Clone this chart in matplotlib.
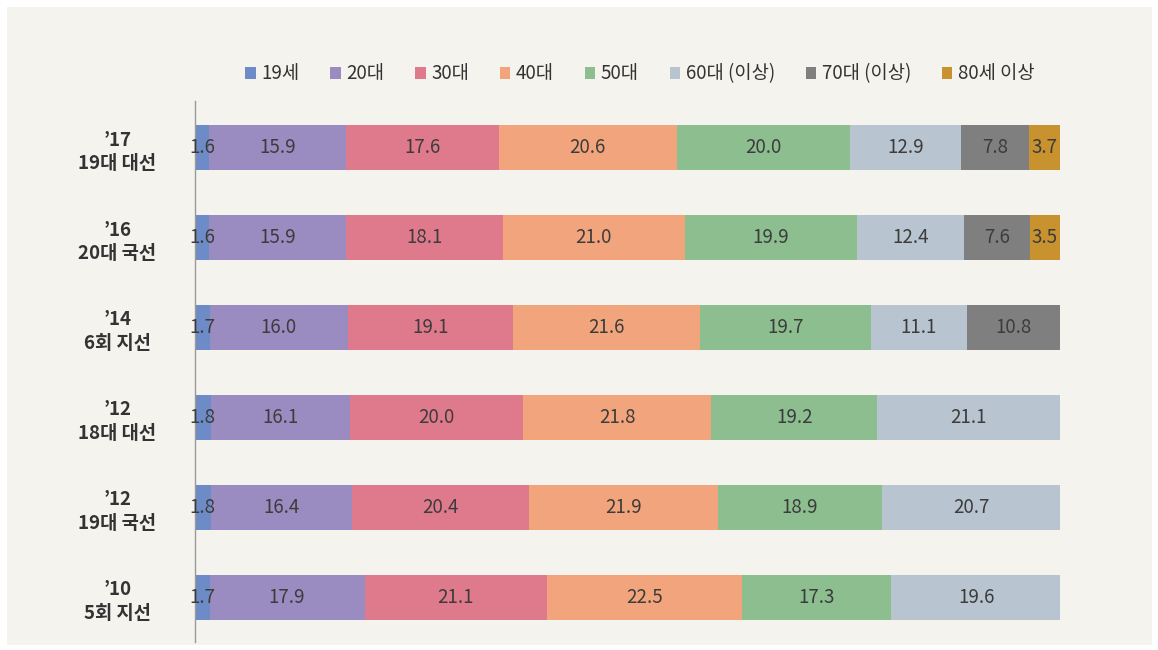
import matplotlib.pyplot as plt
from matplotlib.patches import Rectangle, Patch
import numpy as np

plt.rcParams['font.family'] = ['Noto Sans CJK KR', 'DejaVu Sans']

categories = ["’17\n19대 대선", "’16\n20대 국선", "’14\n6회 지선",
              "’12\n18대 대선", "’12\n19대 국선", "’10\n5회 지선"]
groups = ["19세", "20대", "30대", "40대", "50대", "60대 (이상)", "70대 (이상)", "80세 이상"]
colors = ["#6d8bc6", "#9a8cc0", "#df7a8c", "#f2a57d", "#8dbe8f", "#b8c4cf", "#7f7f80", "#c8922f"]

# values per group, one per category (0 = no segment)
v19 = [1.6, 1.6, 1.7, 1.8, 1.8, 1.7]
v20 = [15.9, 15.9, 16.0, 16.1, 16.4, 17.9]
v30 = [17.6, 18.1, 19.1, 20.0, 20.4, 21.1]
v40 = [20.6, 21.0, 21.6, 21.8, 21.9, 22.5]
v50 = [20.0, 19.9, 19.7, 19.2, 18.9, 17.3]
v60 = [12.9, 12.4, 11.1, 21.1, 20.7, 19.6]
v70 = [7.8, 7.6, 10.8, 0, 0, 0]
v80 = [3.7, 3.5, 0, 0, 0, 0]
series = [v19, v20, v30, v40, v50, v60, v70, v80]

fig = plt.figure(figsize=(11.58, 6.5), dpi=100)
fig.patch.set_facecolor("white")
fig.patches.append(Rectangle((7 / 1158, 5 / 650), 1145 / 1158, 638 / 650,
                             transform=fig.transFigure, facecolor="#f4f3ee",
                             edgecolor="none", zorder=-5))

ax = fig.add_axes([195 / 1158, 8 / 650, 865 / 1158, 541 / 650])
ax.set_facecolor("none")
ax.set_zorder(2)

y = np.arange(len(categories))
left = np.zeros(len(categories))
for name, vals, c in zip(groups, series, colors):
    vals = np.array(vals, dtype=float)
    ax.barh(y, vals, left=left, height=0.5, color=c, edgecolor="none", label=name)
    for yi, l, v in zip(y, left, vals):
        if v > 0:
            ax.text(l + v / 2, yi, f"{v:.1f}", ha="center", va="center",
                    fontsize=13.5, color="#3c3c3c")
    left += vals

ax.set_xlim(0, 100)
ax.set_ylim(5.5, -0.52)
ax.set_xticks([])
ax.set_yticks(y)
ax.set_yticklabels(categories, fontsize=13.5, fontweight="bold", color="#333333",
                   linespacing=1.3, ha="center")
ax.tick_params(axis="y", length=0, pad=56)
for s in ["top", "right", "bottom"]:
    ax.spines[s].set_visible(False)
ax.spines["left"].set_color("#9a9a9a")
ax.spines["left"].set_linewidth(1.0)

handles = [Patch(facecolor=c, edgecolor="none") for c in colors]
fig.legend(handles, groups, loc="center", bbox_to_anchor=(640 / 1158, 1 - 74 / 650),
           ncol=8, frameon=False, fontsize=13.5, handlelength=0.55, handleheight=0.55,
           handletextpad=0.3, columnspacing=1.65, labelcolor="#333333")

fig.savefig("out.png", dpi=100, facecolor=fig.get_facecolor())
